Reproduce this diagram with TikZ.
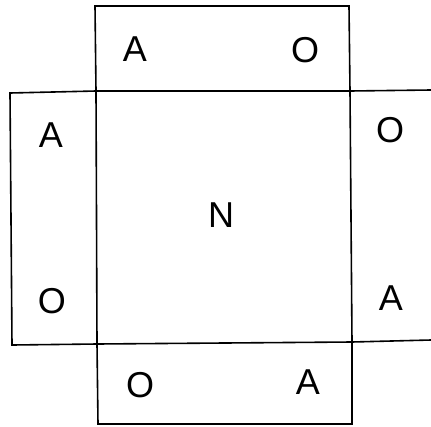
\documentclass[tikz,border=0pt]{standalone}
\usepackage{fontspec}
\setmainfont{Liberation Sans}
\begin{document}
\begin{tikzpicture}[x=1pt,y=-1pt,
  edge/.style={line width=1.6pt,black},
  lab/.style={font=\fontsize{36}{40}\selectfont,inner sep=0pt,anchor=center}]
\useasboundingbox (0,0) rectangle (431,426);
% corners of central square
\coordinate (c1) at (96,91);
\coordinate (c2) at (350,91);
\coordinate (c3) at (352,342);
\coordinate (c4) at (97,344);
% top flap
\coordinate (t1) at (95,6);
\coordinate (t2) at (349,6);
% left flap
\coordinate (l1) at (10,93);
\coordinate (l2) at (12,345);
% right flap open ends
\coordinate (r1) at (431,90);
\coordinate (r2) at (431,340);
% bottom flap
\coordinate (b1) at (98,424);
\coordinate (b2) at (352,424);
\draw[edge] (c1) -- (c2) -- (c3) -- (c4) -- cycle;
\draw[edge] (c1) -- (t1) -- (t2) -- (c2);
\draw[edge] (c1) -- (l1) -- (l2) -- (c4);
\draw[edge] (c2) -- (r1);
\draw[edge] (c3) -- (r2);
\draw[edge] (c4) -- (b1) -- (b2) -- (c3);
\node[lab] (ta) at (135,49) {A};
\node[lab] (to) at (305,50) {O};
\node[lab] (la) at (51,135) {A};
\node[lab] (lo) at (52,301) {O};
\node[lab] (ro) at (390,130) {O};
\node[lab] (ra) at (391,298) {A};
\node[lab] (n) at (221,215) {N};
\node[lab] (bo) at (140,385) {O};
\node[lab] (ba) at (308,382) {A};
\end{tikzpicture}
\end{document}
